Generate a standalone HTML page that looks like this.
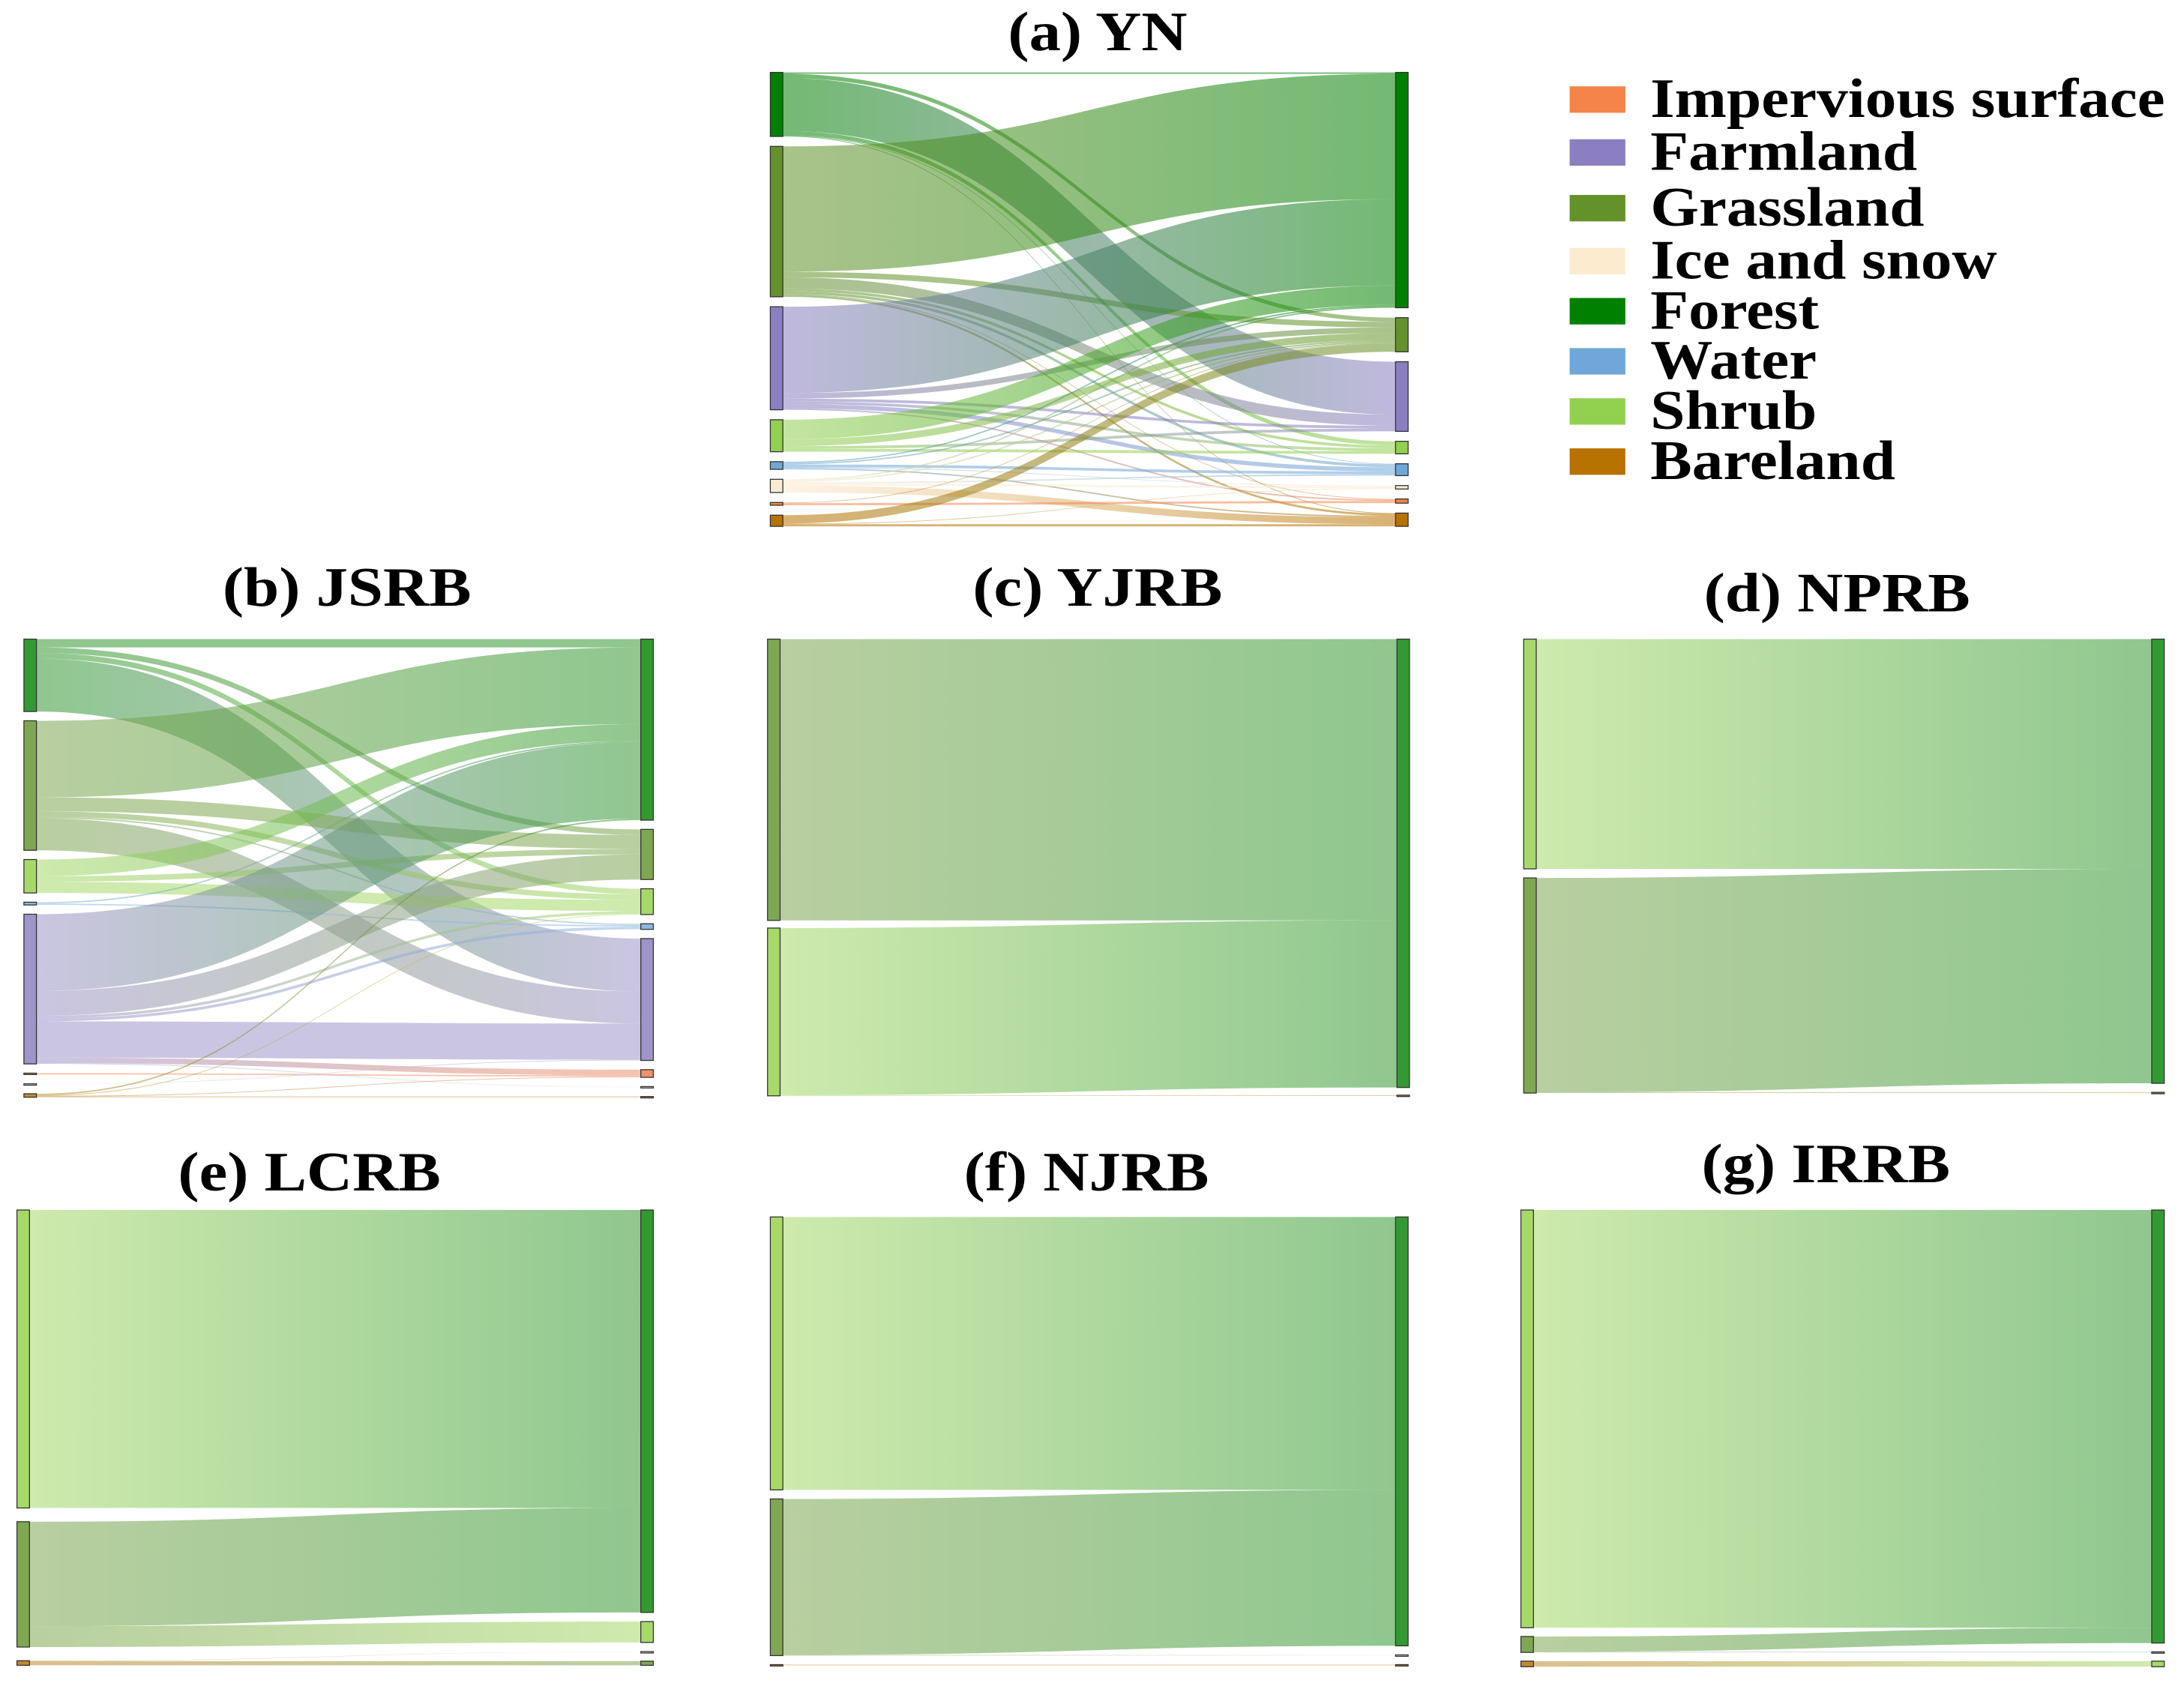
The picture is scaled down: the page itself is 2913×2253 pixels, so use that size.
<!DOCTYPE html>
<html><head><meta charset="utf-8"><style>
html,body{margin:0;padding:0;background:#fff;}
svg{display:block;}
text{font-family:"Liberation Serif",serif;font-weight:bold;fill:#000;}
</style></head><body>
<svg id="chart" xmlns="http://www.w3.org/2000/svg" width="2913" height="2253" viewBox="0 0 1568 1213">
<defs id="defs"></defs>
<g id="legend"></g>
</svg>
<script>
// ---- data ----
const classNames = ["Impervious surface","Farmland","Grassland","Ice and snow","Forest","Water","Shrub","Bareland"];
const classKeys = ["Im","Fa","G","I","F","W","S","B"];
const paletteA = {Im:"#f4844a",Fa:"#8b7fc2",G:"#63922a",I:"#fdebcf",F:"#008000",W:"#6fa8d8",S:"#92d050",B:"#b87200"};
const paletteB = {Im:"#f0926a",Fa:"#9f95c9",G:"#7fa752",I:"#eeeeee",F:"#339933",W:"#8fb8de",S:"#a6d96a",B:"#c08a30"};

// panel (a) YN
const ynSource = ["F","F","F","F","F","F","G","G","G","G","G","G","G","Fa","Fa","Fa","Fa","Fa","Fa","S","S","S","S","W","W","W","W","W","I","I","I","I","I","Im","Im","B","B","B"];
const ynTarget = ["F","G","Fa","S","W","B","F","G","Fa","S","W","Im","B","F","G","Fa","S","W","Im","F","G","Fa","S","F","G","W","I","B","F","G","W","I","B","Im","G","G","B","I"];
const ynValue  = [1,3,38,3,0.5,0.5,90,4,8,2,2,0.5,1.5,62,4,2,2,3,1,14,5,2,2,1,1,2,0.5,1,1,1,1,1.5,5,1.5,0.5,6,1.5,0.5];
// panel (b) JSRB
const jsSource = ["F","F","F","F","G","G","G","G","G","S","S","S","W","W","Fa","Fa","Fa","Fa","Fa","Fa","Fa","Im","I","B","B","B","B"];
const jsTarget = ["Fa","G","S","F","F","G","S","W","Fa","F","G","S","F","W","F","G","S","W","Fa","Im","I","Im","Fa","F","Im","B","S"];
const jsValue  = [38,4,4,6,55,10,4,1,23,12,4,8,1,1,55,18,2,2,26,4,0.5,1,0.5,1,0.5,0.5,0.5];
// panel (c) YJRB
const yjSource = ["G","S","S"];
const yjTarget = ["F","F","B"];
const yjValue  = [202,120,0.5];
// panel (d) NPRB
const npSource = ["S","G","G"];
const npTarget = ["F","F","B"];
const npValue  = [165,154,0.5];
// panel (e) LCRB
const lcSource = ["S","G","G","B","B"];
const lcTarget = ["F","F","S","I","G"];
const lcValue  = [214,75,15,0.3,3];
// panel (f) NJRB
const njSource = ["S","G","G","B"];
const njTarget = ["F","F","I","B"];
const njValue  = [196,112,0.5,0.5];
// panel (g) IRRB
const irSource = ["S","G","B","G"];
const irTarget = ["F","F","S","W"];
const irValue  = [300,11,4,0.4];

const panels = [
 {id:"yn",title:"(a) YN",tx:788,ty:36,src:ynSource,tgt:ynTarget,val:ynValue,pal:paletteA,x0:553,x1:1002,y0:52,y1:378,
  lo:["F","G","Fa","S","W","I","Im","B"],ro:["F","G","Fa","S","W","I","Im","B"]},
 {id:"jsrb",title:"(b) JSRB",tx:249,ty:435,src:jsSource,tgt:jsTarget,val:jsValue,pal:paletteB,x0:17,x1:460,y0:459,y1:788,
  lo:["F","G","S","W","Fa","Im","I","B"],ro:["F","G","S","W","Fa","Im","I","B"]},
 {id:"yjrb",title:"(c) YJRB",tx:788,ty:435,src:yjSource,tgt:yjTarget,val:yjValue,pal:paletteB,x0:551,x1:1003,y0:459,y1:787,
  lo:["G","S"],ro:["F","B"]},
 {id:"nprb",title:"(d) NPRB",tx:1319,ty:439,src:npSource,tgt:npTarget,val:npValue,pal:paletteB,x0:1094,x1:1545,y0:459,y1:785,
  lo:["S","G"],ro:["F","B"]},
 {id:"lcrb",title:"(e) LCRB",tx:222,ty:855,src:lcSource,tgt:lcTarget,val:lcValue,pal:paletteB,x0:12,x1:460,y0:869,y1:1196,
  lo:["S","G","B"],ro:["F","S","I","G"]},
 {id:"njrb",title:"(f) NJRB",tx:780,ty:855,src:njSource,tgt:njTarget,val:njValue,pal:paletteB,x0:553,x1:1002,y0:874,y1:1196,
  lo:["S","G","B"],ro:["F","I","B"]},
 {id:"irrb",title:"(g) IRRB",tx:1311,ty:849,src:irSource,tgt:irTarget,val:irValue,pal:paletteB,x0:1092,x1:1545,y0:869,y1:1197,
  lo:["S","G","B"],ro:["F","W","S"]}
];

const NS="http://www.w3.org/2000/svg";
const svg=document.getElementById("chart");
const defs=document.getElementById("defs");
const NW=9;
let gid=0;
function mk(tag,attrs,parent){const e=document.createElementNS(NS,tag);for(const k in attrs)e.setAttribute(k,attrs[k]);parent.appendChild(e);return e;}

function layoutColumn(order,totals,y0,y1){
  const tot=order.reduce((s,k)=>s+totals[k],0);
  const gap=order.length>1?(y1-y0-tot)/(order.length-1):0;
  const pos={};let y=y0;
  order.forEach(k=>{pos[k]={y:y,h:totals[k]};y+=totals[k]+gap;});
  return pos;
}

panels.forEach(p=>{
  const g=mk("g",{},svg);
  
  
  const t=mk("text",{x:p.tx,y:p.ty,"text-anchor":"middle","font-size":"40",transform:`translate(${p.tx},0) scale(1.14,1) translate(${-p.tx},0)`},g);
  t.textContent=p.title;
  
  
  const lt={},rt={};
  p.lo.forEach(k=>lt[k]=0);p.ro.forEach(k=>rt[k]=0);
  p.val.forEach((v,i)=>{lt[p.src[i]]+=v;rt[p.tgt[i]]+=v;});
  const lp=layoutColumn(p.lo,lt,p.y0,p.y1);
  const rp=layoutColumn(p.ro,rt,p.y0,p.y1);
  const idx=p.val.map((v,i)=>i);
  const so={},to={};
  p.lo.forEach(k=>so[k]=lp[k].y);p.ro.forEach(k=>to[k]=rp[k].y);
  const sy={},ty={};
  idx.slice().sort((a,b)=>p.lo.indexOf(p.src[a])-p.lo.indexOf(p.src[b])||p.ro.indexOf(p.tgt[a])-p.ro.indexOf(p.tgt[b]))
    .forEach(i=>{sy[i]=so[p.src[i]];so[p.src[i]]+=p.val[i];});
  idx.slice().sort((a,b)=>p.ro.indexOf(p.tgt[a])-p.ro.indexOf(p.tgt[b])||p.lo.indexOf(p.src[a])-p.lo.indexOf(p.src[b]))
    .forEach(i=>{ty[i]=to[p.tgt[i]];to[p.tgt[i]]+=p.val[i];});
  const xs=p.x0+NW,xt=p.x1,xm=(xs+xt)/2;
  const lg=mk("g",{},g);
  idx.forEach(i=>{
    const v=p.val[i];
    const id="gr"+(gid++);
    const gr=mk("linearGradient",{id:id,gradientUnits:"userSpaceOnUse",x1:xs,x2:xt,y1:0,y2:0},defs);
    mk("stop",{offset:"0","stop-color":p.pal[p.src[i]]},gr);
    mk("stop",{offset:"1","stop-color":p.pal[p.tgt[i]]},gr);
    const a=sy[i],b=ty[i];
    const d=`M${xs},${a}C${xm},${a} ${xm},${b} ${xt},${b}L${xt},${b+v}C${xm},${b+v} ${xm},${a+v} ${xs},${a+v}Z`;
    const path=mk("path",{d:d,fill:`url(#${id})`,"fill-opacity":"0.55"},lg);
    
    
  });
  p.lo.forEach(k=>{
    const r=mk("rect",{x:p.x0,y:lp[k].y,width:NW,height:Math.max(lp[k].h,1),fill:p.pal[k],stroke:"#333","stroke-width":"0.7"},g);
    
    
  });
  p.ro.forEach(k=>{
    const r=mk("rect",{x:p.x1,y:rp[k].y,width:NW,height:Math.max(rp[k].h,1),fill:p.pal[k],stroke:"#333","stroke-width":"0.7"},g);
    
    
  });
});

// legend
const legend=document.getElementById("legend");
const legendY=[71,109,149,187,223,259,295,331];
classKeys.forEach((k,i)=>{
  const r=mk("rect",{x:1127,y:legendY[i]-9,width:40,height:19,fill:paletteA[k]},legend);
  
  
  const t=mk("text",{x:1185,y:legendY[i]+13,"font-size":"40",transform:"translate(1185,0) scale(1.12,1) translate(-1185,0)"},legend);
  t.textContent=classNames[i];
  
  
});
svg.appendChild(legend);
</script>
</body></html>
